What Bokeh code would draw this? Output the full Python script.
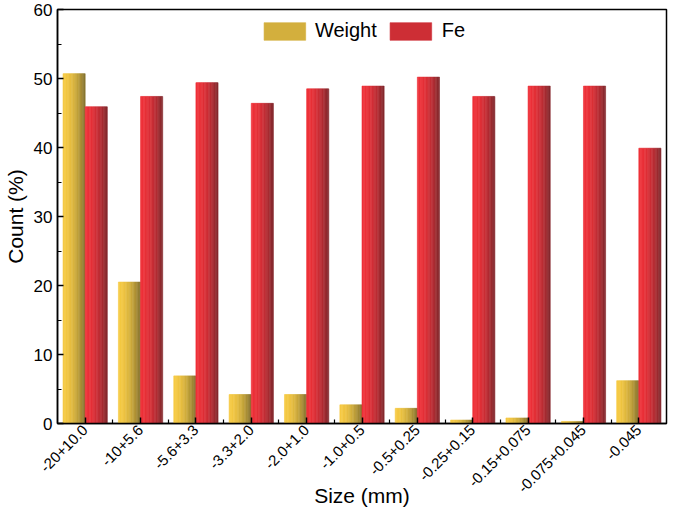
import math
from bokeh.plotting import figure
from bokeh.models import (ColumnDataSource, Range1d, FixedTicker, Legend, LegendItem)
from bokeh.embed import file_html
from bokeh.resources import INLINE

# ---- data ----
categories = ["-20+10.0", "-10+5.6", "-5.6+3.3", "-3.3+2.0", "-2.0+1.0", "-1.0+0.5",
              "-0.5+0.25", "-0.25+0.15", "-0.15+0.075", "-0.075+0.045", "-0.045"]
weight = [50.7, 20.5, 6.9, 4.2, 4.2, 2.7, 2.2, 0.5, 0.8, 0.3, 6.2]
fe = [45.9, 47.4, 49.4, 46.4, 48.5, 48.9, 50.2, 47.4, 48.9, 48.9, 39.9]
y_ticks = [0, 10, 20, 30, 40, 50, 60]
y_minor = [5, 15, 25, 35, 45, 55]

FONT = "Liberation Sans"
BAR_W = 0.4
N_STRIPS = 16

def lerp_hex(c1, c2, t):
    a = [int(c1[i:i + 2], 16) for i in (1, 3, 5)]
    b = [int(c2[i:i + 2], 16) for i in (1, 3, 5)]
    return "#%02x%02x%02x" % tuple(int(round(a[k] + (b[k] - a[k]) * t)) for k in range(3))

def strip_source(values, offset, c_left, c_right, gamma):
    xs, tops, cols = [], [], []
    sw = BAR_W / N_STRIPS
    for i, v in enumerate(values):
        center = i + 0.5 + offset
        for s in range(N_STRIPS):
            t = s / (N_STRIPS - 1)
            xs.append(center - BAR_W / 2 + sw * (s + 0.5))
            tops.append(v)
            cols.append(lerp_hex(c_left, c_right, t ** gamma))
    return ColumnDataSource(dict(x=xs, top=tops, color=cols)), sw

p = figure(width=669, height=510, output_backend="svg", toolbar_location=None,
           x_range=Range1d(0, len(categories)), y_range=Range1d(0, 60),
           min_border_left=49, min_border_right=3, min_border_top=9, min_border_bottom=0)

src_w, sw = strip_source(weight, -BAR_W / 2, "#f6ca43", "#8a7630", 1.8)
src_f, _ = strip_source(fe, BAR_W / 2, "#ef3139", "#86292e", 1.8)
rw = p.vbar(x="x", top="top", bottom=0, width=sw, source=src_w,
            fill_color="color", line_color="color", line_width=0.6)
rf = p.vbar(x="x", top="top", bottom=0, width=sw, source=src_f,
            fill_color="color", line_color="color", line_width=0.6)

p.grid.visible = False
p.outline_line_color = "black"
p.outline_line_width = 1.5
p.background_fill_color = "white"
p.border_fill_color = "white"

# x axis
xa = p.xaxis[0]
centers = [i + 0.5 for i in range(len(categories))]
xa.ticker = FixedTicker(ticks=centers, minor_ticks=list(range(1, len(categories))))
xa.major_label_overrides = {c: lab for c, lab in zip(centers, categories)}
xa.major_label_orientation = math.pi / 4
xa.axis_label = "Size (mm)"
xa.major_tick_in = 6
xa.major_tick_out = 0
xa.minor_tick_in = 4
xa.minor_tick_out = 0
xa.major_tick_line_width = 1.5
xa.minor_tick_line_width = 1.2
xa.axis_line_width = 1.5
xa.major_label_text_font = FONT
xa.major_label_text_font_size = "15px"
xa.major_label_text_color = "black"
xa.axis_label_text_font = FONT
xa.axis_label_text_font_size = "21px"
xa.axis_label_text_font_style = "normal"
xa.axis_label_text_color = "black"
xa.major_label_standoff = 4
xa.axis_label_standoff = -16

ya = p.yaxis[0]
ya.ticker = FixedTicker(ticks=y_ticks, minor_ticks=y_minor)
ya.axis_label = "Count (%)"
ya.major_tick_in = 6
ya.major_tick_out = 0
ya.minor_tick_in = 4
ya.minor_tick_out = 0
ya.major_tick_line_width = 1.5
ya.minor_tick_line_width = 1.2
ya.axis_line_width = 1.5
ya.major_label_text_font = FONT
ya.major_label_text_font_size = "17px"
ya.major_label_text_color = "black"
ya.axis_label_text_font = FONT
ya.axis_label_text_font_size = "21px"
ya.axis_label_text_font_style = "normal"
ya.axis_label_text_color = "black"
ya.major_label_standoff = 5
ya.axis_label_standoff = 4

legend = Legend(items=[LegendItem(label="Weight", renderers=[rw], index=N_STRIPS // 2),
                       LegendItem(label="Fe", renderers=[rf], index=N_STRIPS // 2)],
                location="top_center", orientation="horizontal",
                border_line_color=None, background_fill_alpha=0,
                label_text_font=FONT, label_text_font_size="20px",
                label_text_color="black",
                glyph_width=52, glyph_height=22, spacing=8, margin=10,
                label_standoff=5, padding=4)
p.add_layout(legend)

open("out.html", "w").write(file_html(p, INLINE))
